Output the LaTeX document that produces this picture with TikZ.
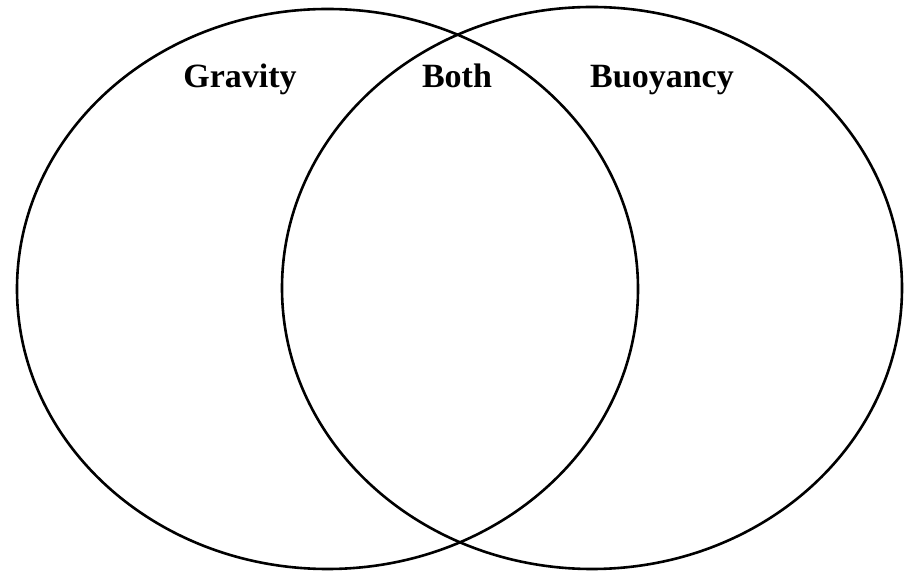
\documentclass[tikz,border=0pt]{standalone}
\usepackage{fontspec}
\setmainfont{Liberation Serif}
\usepackage{tikz}

\begin{document}
\begin{tikzpicture}[x=1pt,y=1pt]
      % canvas 907x570, venn: two ellipses rx=310.5, ry=280
      \useasboundingbox (0,0) rectangle (907,570);
      \tikzset{ring/.style={line width=2.6pt},
        title/.style={font=\fontsize{34}{36}\selectfont\bfseries, anchor=base}}
      \draw[ring] (327.5,281) ellipse (310.5 and 280);
      \draw[ring] (592,282) ellipse (310 and 281);
      % set labels
      \node[title] (gravity)  at (240,482) {Gravity};
      \node[title] (both)     at (457,482) {Both};
      \node[title] (buoyancy) at (662,482) {Buoyancy};
    \end{tikzpicture}
\end{document}
